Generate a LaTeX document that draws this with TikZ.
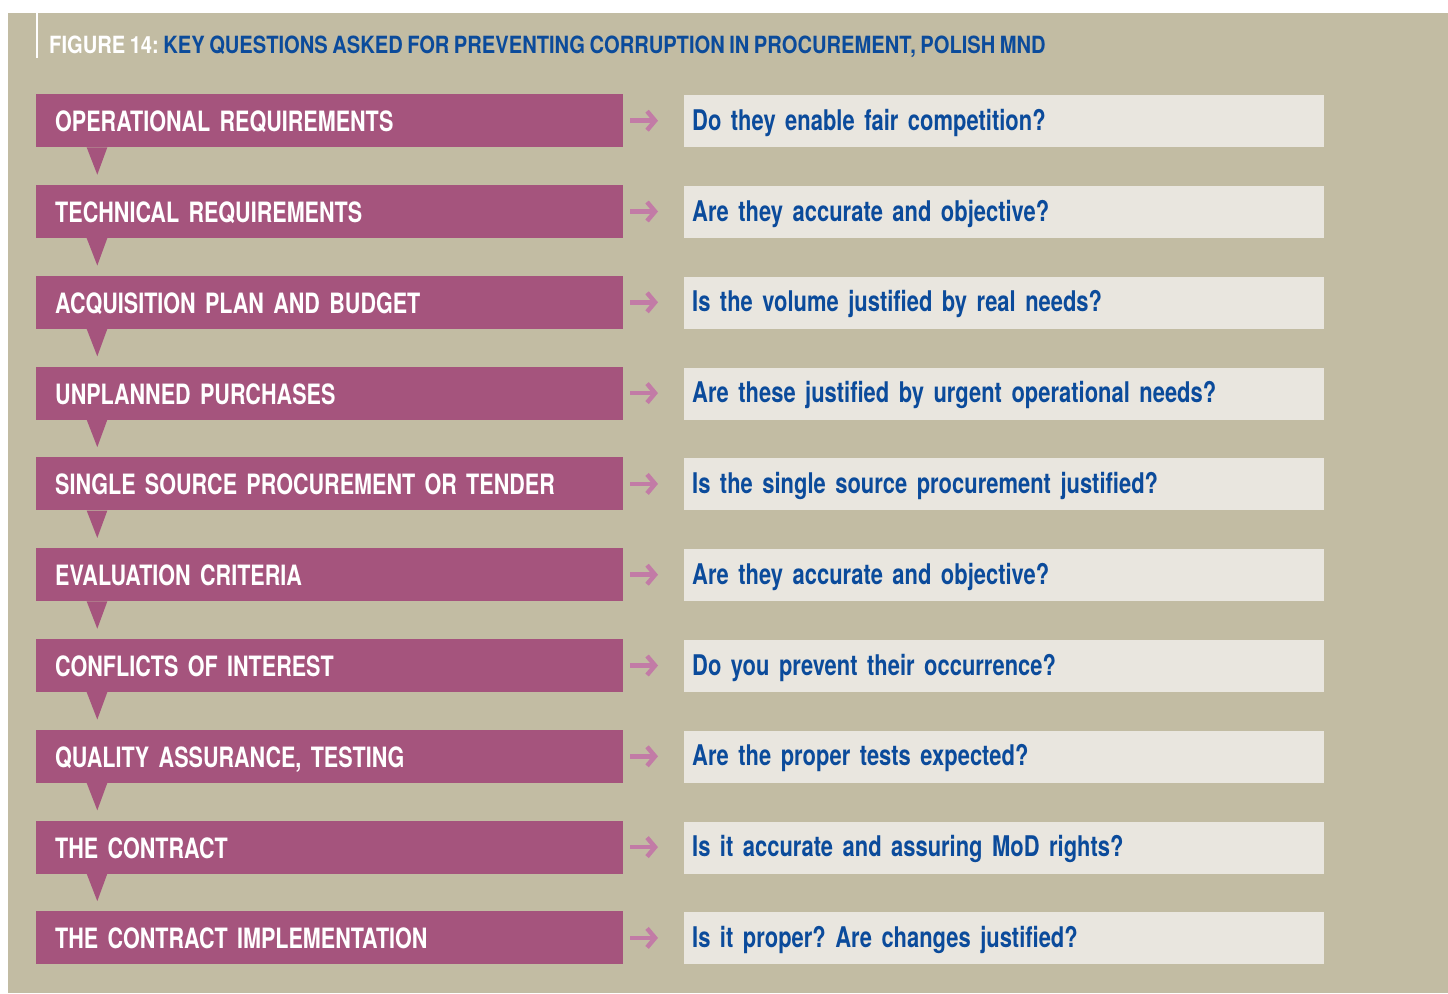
\documentclass[tikz,border=0pt]{standalone}
\usepackage{fontspec}
\setmainfont{TeX Gyre Heros}[FakeStretch=0.77]
\newfontfamily\titlefont{TeX Gyre Heros}[FakeStretch=0.85, WordSpace=0.8]
\usetikzlibrary{arrows.meta}
\definecolor{bgbeige}{HTML}{C2BCA3}
\definecolor{plum}{HTML}{A5547D}
\definecolor{arrowpink}{HTML}{C27BA6}
\definecolor{paleq}{HTML}{E9E6DF}
\definecolor{qblue}{HTML}{0B4B9B}
\tikzset{
  stage/.style={rectangle, fill=plum, anchor=north west, minimum width=587pt, minimum height=53pt,
    inner xsep=19pt, inner ysep=0pt, text width=549pt, align=left, text=white,
    font=\bfseries\fontsize{28}{30}\selectfont, text height=22pt, text depth=0pt},
  question/.style={rectangle, fill=paleq, anchor=north west, minimum width=640pt, minimum height=52pt,
    inner xsep=8pt, inner ysep=0pt, text width=624pt, align=left, text=qblue,
    font=\bfseries\fontsize{28.5}{30}\selectfont, text height=18pt, text depth=0pt},
  pointer/.style={fill=plum},
  link/.style={draw=arrowpink, line width=4.5pt, shorten <=7pt, shorten >=26pt,
    -{Straight Barb[length=8pt,width=19pt]}},
}
\frenchspacing
\begin{document}
\frenchspacing
\begin{tikzpicture}[x=1pt,y=-1pt]
\useasboundingbox (0,0) rectangle (1448,993);
\fill[white] (0,0) rectangle (1448,993);
\fill[bgbeige] (8,13) rectangle (1448,993);
\fill[white] (36,13) rectangle (38,58);
\node[anchor=base west, inner sep=0pt, font=\titlefont\bfseries\fontsize{23.7}{26}\selectfont] (title) at (49,53.3)
  {\textcolor{white}{FIGURE 14:} \textcolor{qblue}{KEY QUESTIONS ASKED FOR PREVENTING CORRUPTION IN PROCUREMENT, POLISH MND}};
\foreach \i/\s/\q in {
  0/OPERATIONAL REQUIREMENTS/Do they enable fair competition?,
  1/TECHNICAL REQUIREMENTS/Are they accurate and objective?,
  2/ACQUISITION PLAN AND BUDGET/Is the volume justified by real needs?,
  3/UNPLANNED PURCHASES/Are these justified by urgent operational needs?,
  4/SINGLE SOURCE PROCUREMENT OR TENDER/Is the single source procurement justified?,
  5/EVALUATION CRITERIA/Are they accurate and objective?,
  6/CONFLICTS OF INTEREST/Do you prevent their occurrence?,
  7/{QUALITY ASSURANCE, TESTING}/Are the proper tests expected?,
  8/THE CONTRACT/Is it accurate and assuring MoD rights?,
  9/THE CONTRACT IMPLEMENTATION/Is it proper? Are changes justified?}
{
  \node[stage] (s\i) at (36,{94+\i*90.8}) {\s};
  \node[question] (q\i) at (684,{95+\i*90.8}) {\q};
  \draw[link] (s\i.east) -- (q\i.west |- s\i.east);
}
\foreach \i in {0,...,8}{
  \fill[pointer] ([xshift=50.7pt]s\i.south west) -- ++(20.6,0) -- ++(-10,27.3) -- cycle;
}
\end{tikzpicture}
\end{document}
